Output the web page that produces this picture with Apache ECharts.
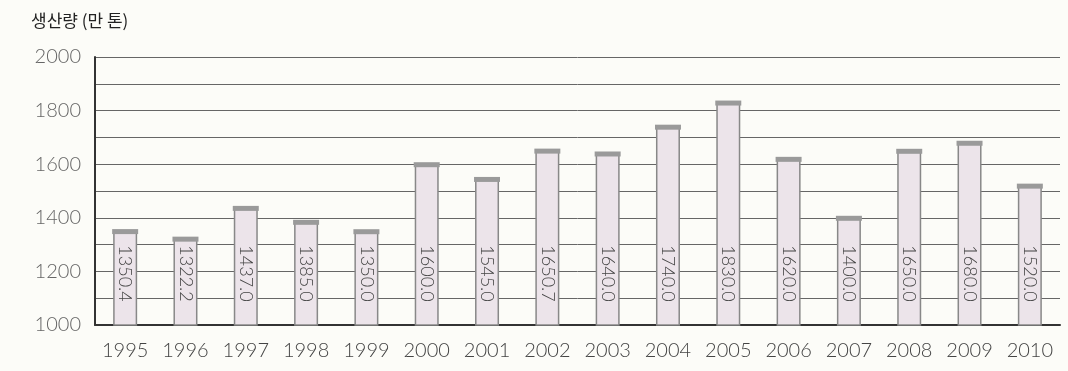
<!DOCTYPE html>
<html>
<head>
<meta charset="utf-8">
<script src="https://cdn.jsdelivr.net/npm/echarts@6/dist/echarts.min.js"></script>
<style>
html,body{margin:0;padding:0;background:#fcfcf8;}
#c{width:1068px;height:371px;}
</style>
</head>
<body>
<div id="c"></div>
<script>
const title = '생산량 (만 톤)';
const years = ['1995','1996','1997','1998','1999','2000','2001','2002','2003','2004','2005','2006','2007','2008','2009','2010'];
const production = [1350.4, 1322.2, 1437.0, 1385.0, 1350.0, 1600.0, 1545.0, 1650.7, 1640.0, 1740.0, 1830.0, 1620.0, 1400.0, 1650.0, 1680.0, 1520.0];
const yMin = 1000, yMax = 2000, yStep = 100;

const chart = echarts.init(document.getElementById('c'));
const lightFont = 'Lato, "Open Sans", "DejaVu Sans", sans-serif';
chart.setOption({
  backgroundColor: '#fcfcf8',
  animation: false,
  title: {
    text: title, left: 26, top: 7,
    textStyle: {fontFamily: '"Noto Sans CJK KR", sans-serif', fontSize: 17, fontWeight: 'normal', color: '#222'}
  },
  grid: {left: 95, right: 8, top: 57, bottom: 46},
  xAxis: {
    type: 'category', data: years,
    axisLine: {lineStyle: {color: '#333', width: 2}},
    axisTick: {show: false},
    axisLabel: {interval: 0, fontFamily: lightFont, fontWeight: 300, fontSize: 20, color: '#444', margin: 16}
  },
  yAxis: {
    type: 'value', min: yMin, max: yMax, interval: yStep,
    axisLine: {show: true, lineStyle: {color: '#333', width: 2}},
    axisTick: {show: false},
    splitLine: {lineStyle: {color: '#666', width: 1}},
    axisLabel: {
      fontFamily: lightFont, fontWeight: 300, fontSize: 20, color: '#666', margin: 14,
      formatter: v => (v % 200 === 0 ? String(v) : '')
    }
  },
  series: [{
    type: 'bar', data: production, barWidth: 24,
    itemStyle: {color: '#ece4ea', borderColor: '#888', borderWidth: 1.5},
    label: {
      show: true, position: 'insideBottom', distance: 24, rotate: -90,
      align: 'right', verticalAlign: 'middle',
      fontFamily: lightFont, fontWeight: 300, fontSize: 18, color: '#444',
      formatter: p => p.value.toFixed(1)
    }
  }, {
    type: 'custom', data: production.map((v, i) => [i, v]),
    renderItem: (params, api) => {
      const p = api.coord([api.value(0), api.value(1)]);
      return {type: 'rect', shape: {x: p[0] - 13, y: p[1] - 2, width: 26, height: 5},
              style: {fill: '#9a9a9a'}};
    },
    z: 3
  }]
});
</script>
</body>
</html>
